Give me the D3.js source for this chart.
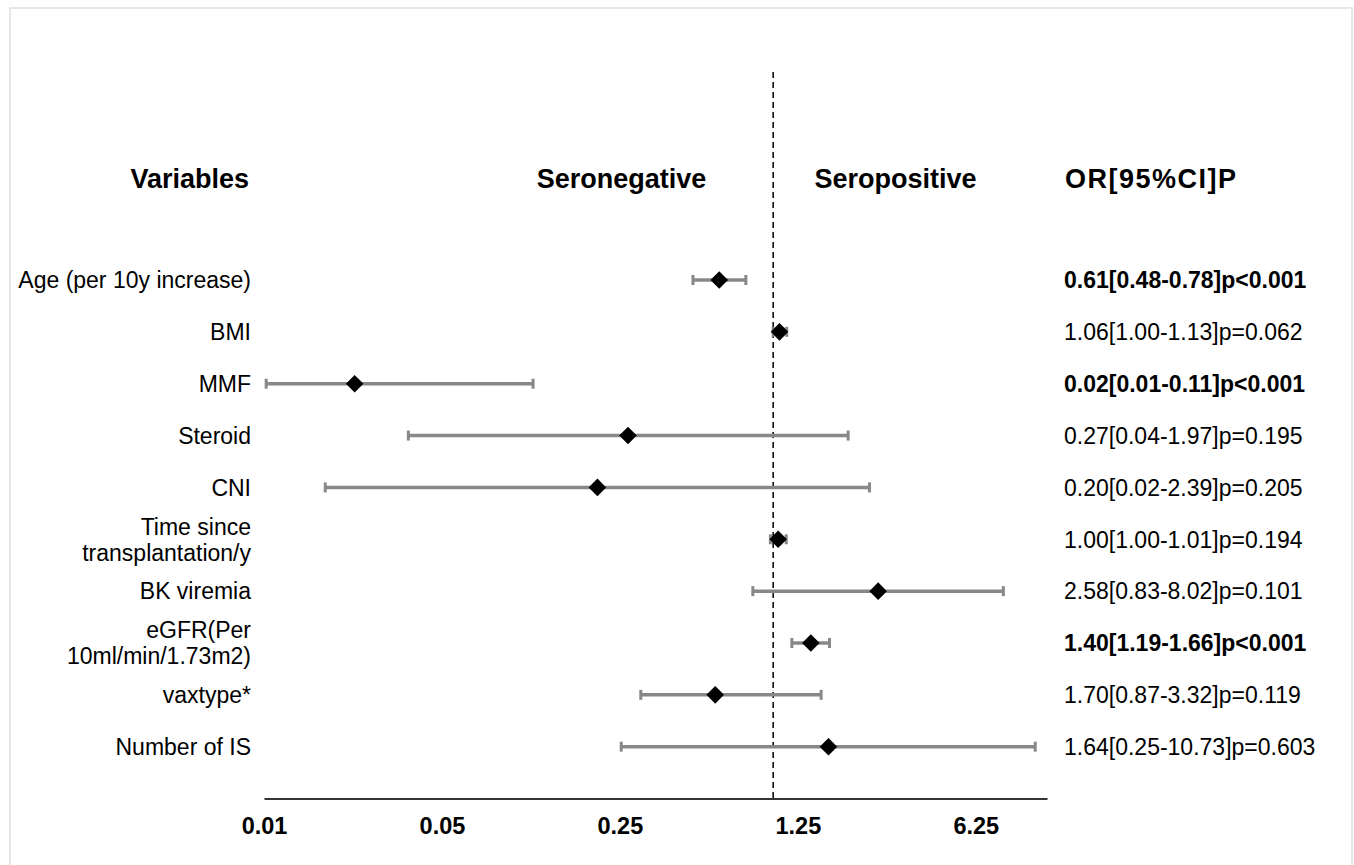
<!DOCTYPE html>
<html>
<head>
<meta charset="utf-8">
<script src="https://cdn.jsdelivr.net/npm/d3@7"></script>
<style>
  html, body { margin: 0; padding: 0; background: #fff; }
  svg { display: block; font-family: "Liberation Sans", Arial, Helvetica, sans-serif; }
</style>
</head>
<body>
<svg id="chart" width="1354" height="865"></svg>
<script>
// ---- data ----
const variables = [
  ["Age (per 10y increase)"],
  ["BMI"],
  ["MMF"],
  ["Steroid"],
  ["CNI"],
  ["Time since", "transplantation/y"],
  ["BK viremia"],
  ["eGFR(Per", "10ml/min/1.73m2)"],
  ["vaxtype*"],
  ["Number of IS"]
];
const orValues = [0.614, 1.059, 0.0227, 0.269, 0.204, 1.046, 2.584, 1.406, 0.592, 1.649];
const ciLower  = [0.484, 1.00, 0.0102, 0.0369, 0.0174, 0.975, 0.832, 1.184, 0.302, 0.253];
const ciUpper  = [0.781, 1.13, 0.114, 1.97, 2.389, 1.125, 8.02, 1.664, 1.543, 10.7];
const resultLabels = [
  "0.61[0.48-0.78]p<0.001",
  "1.06[1.00-1.13]p=0.062",
  "0.02[0.01-0.11]p<0.001",
  "0.27[0.04-1.97]p=0.195",
  "0.20[0.02-2.39]p=0.205",
  "1.00[1.00-1.01]p=0.194",
  "2.58[0.83-8.02]p=0.101",
  "1.40[1.19-1.66]p<0.001",
  "1.70[0.87-3.32]p=0.119",
  "1.64[0.25-10.73]p=0.603"
];
const significant = [true, false, true, false, false, false, false, true, false, false];
const tickValues = [0.01, 0.05, 0.25, 1.25, 6.25];
const tickLabels = ["0.01", "0.05", "0.25", "1.25", "6.25"];
const headers = ["Variables", "Seronegative", "Seropositive", "OR[95%CI]P"];
const referenceValue = 1;

// ---- layout ----
const svg = d3.select("#chart");
svg.append("rect").attr("x", 10).attr("y", 8).attr("width", 1342).attr("height", 880)
  .attr("fill", "none").attr("stroke", "#e6e6e6").attr("stroke-width", 2);

const x = d3.scaleLog().base(5).domain([0.01, 11.9]).range([264, 1047]);
const idx = d3.range(variables.length);
const y = d3.scalePoint().domain(idx).range([280, 746.7]);
const axisY = 798.5;

// axis
const axis = d3.axisBottom(x).tickValues(tickValues).tickFormat((d, i) => tickLabels[i])
  .tickSize(0).tickPadding(18.5);
const gAxis = svg.append("g").attr("transform", `translate(0,${axisY})`).call(axis);
gAxis.select(".domain").attr("stroke", "#333").attr("stroke-width", 2);
gAxis.selectAll("text").attr("font-size", 23.5).attr("font-weight", "bold")
  .attr("fill", "#000").attr("font-family", "Liberation Sans, Arial, sans-serif");

// reference dashed line
svg.append("line")
  .attr("x1", x(referenceValue)).attr("x2", x(referenceValue))
  .attr("y1", 72).attr("y2", axisY)
  .attr("stroke", "#111").attr("stroke-width", 1.6).attr("stroke-dasharray", "6,4");

// headers
const headerY = 178;
const headerFs = 27;
const hdr = svg.append("g").attr("font-weight", "bold").attr("font-size", headerFs).attr("fill", "#000");
hdr.append("text").attr("x", 249).attr("y", headerY + 0.358 * headerFs).attr("text-anchor", "end").text(headers[0]);
hdr.append("text").attr("x", 621.5).attr("y", headerY + 0.358 * headerFs).attr("text-anchor", "middle").text(headers[1]);
hdr.append("text").attr("x", 895.5).attr("y", headerY + 0.358 * headerFs).attr("text-anchor", "middle").text(headers[2]);
hdr.append("text").attr("x", 1065).attr("y", headerY + 0.358 * headerFs).attr("text-anchor", "start")
  .attr("letter-spacing", 1.5).text(headers[3]);

// left labels
const fs = 23;
const lineGap = 26;
const labels = svg.append("g").attr("font-size", fs).attr("fill", "#000");
idx.forEach(i => {
  const lines = variables[i];
  const t = labels.append("text").attr("text-anchor", "end");
  lines.forEach((ln, k) => {
    const off = (k - (lines.length - 1) / 2) * lineGap;
    t.append("tspan").attr("x", 251).attr("y", y(i) + off + 0.358 * fs).text(ln);
  });
});

// right labels
const res = svg.append("g").attr("font-size", fs).attr("fill", "#000");
idx.forEach(i => {
  res.append("text").attr("x", 1064).attr("y", y(i) + 0.358 * fs)
    .attr("font-weight", significant[i] ? "bold" : "normal")
    .text(resultLabels[i]);
});

// error bars
const barColor = "#888888";
const bars = svg.append("g");
idx.forEach(i => {
  const cy = y(i);
  bars.append("line").attr("x1", x(ciLower[i])).attr("x2", x(ciUpper[i]))
    .attr("y1", cy).attr("y2", cy).attr("stroke", barColor).attr("stroke-width", 3.5);
  [ciLower[i], ciUpper[i]].forEach(v => {
    bars.append("line").attr("x1", x(v)).attr("x2", x(v))
      .attr("y1", cy - 5).attr("y2", cy + 5)
      .attr("stroke", barColor).attr("stroke-width", 3);
  });
});

// diamonds
const r = 8.8;
svg.append("g").selectAll("path").data(idx).join("path")
  .attr("d", i => {
    const cx = x(orValues[i]), cy = y(i);
    return `M${cx},${cy - r}L${cx + r},${cy}L${cx},${cy + r}L${cx - r},${cy}Z`;
  })
  .attr("fill", "#000");
</script>
</body>
</html>
